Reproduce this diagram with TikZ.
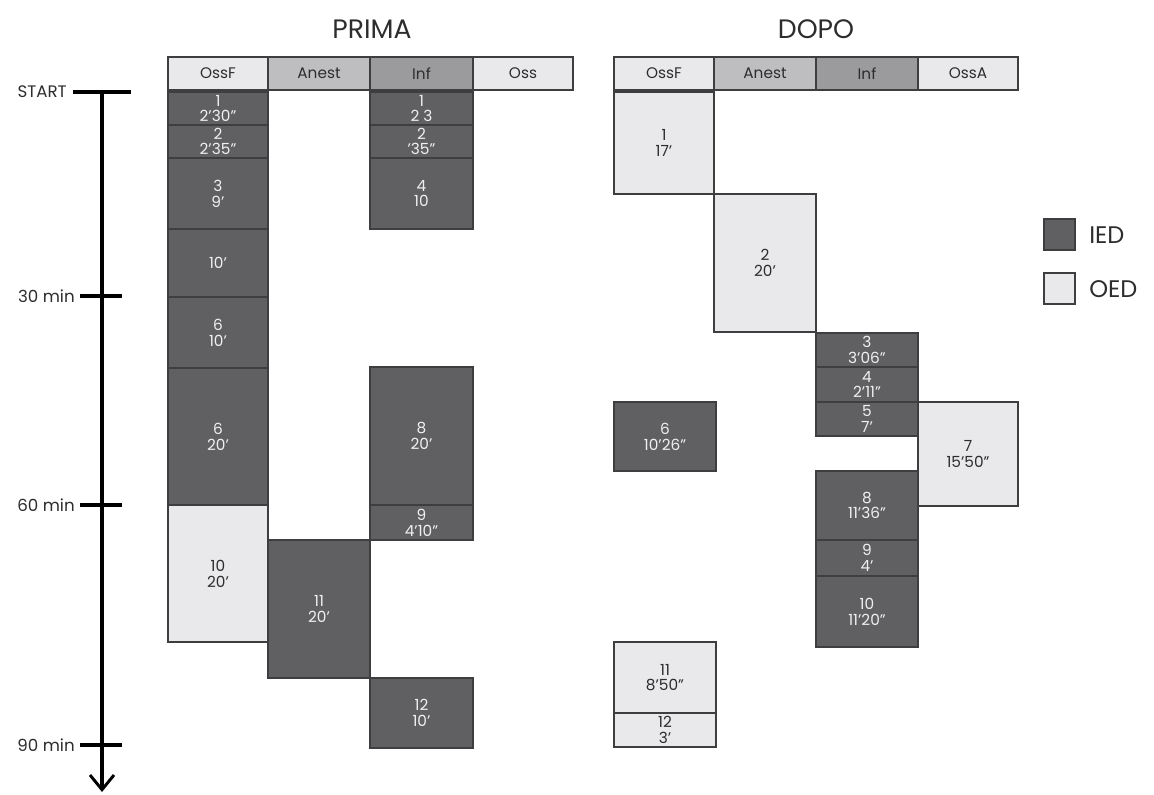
\documentclass[tikz,border=0pt]{standalone}
\usepackage{fontspec}
\setmainfont{Poppins}
\usetikzlibrary{arrows.meta}
\definecolor{iedfill}{RGB}{96,96,98}
\definecolor{oedfill}{RGB}{233,233,236}
\definecolor{anesthd}{RGB}{190,190,192}
\definecolor{infhd}{RGB}{155,155,157}
\definecolor{bord}{RGB}{62,62,64}
\definecolor{darktxt}{RGB}{45,45,45}
\definecolor{lighttxt}{RGB}{240,240,240}
\tikzset{
  cell/.style={draw=bord, line width=0.9pt, inner sep=0pt, align=center},
  ied/.style={cell, fill=iedfill, text=lighttxt, font=\fontsize{11.5}{11.8}\selectfont},
  oed/.style={cell, fill=oedfill, text=darktxt, font=\fontsize{11.5}{11.8}\selectfont},
  hdlight/.style={cell, fill=oedfill, text=darktxt, font=\fontsize{11.5}{12}\selectfont},
  hdmid/.style={cell, fill=anesthd, text=darktxt, font=\fontsize{11.5}{12}\selectfont},
  hddark/.style={cell, fill=infhd, text=darktxt, font=\fontsize{11.5}{12}\selectfont},
  ttl/.style={text=darktxt, font=\fontsize{20}{24}\selectfont},
  tlabel/.style={text=darktxt, font=\fontsize{12.5}{14}\selectfont, anchor=east, inner sep=0pt},
  axisline/.style={line width=2.4pt, black},
  tickline/.style={line width=3pt, black},
  legtxt/.style={text=darktxt, font=\fontsize{18}{21}\selectfont, anchor=west, inner sep=0pt}
}
\newcommand\blk[7]{%
  \pgfmathsetmacro\bw{(#5-#3)*0.75}%
  \pgfmathsetmacro\bh{(#6-#4)*0.75}%
  \node[#2, minimum width=\bw pt, minimum height=\bh pt] (#1) at ({(#3+#5)/2},{(#4+#6)/2}) {#7};}
\begin{document}
\begin{tikzpicture}[x=0.75pt,y=-0.75pt]
\useasboundingbox (0,0) rectangle (1154,794);
% titles
\node[ttl] (tPrima) at (372,29) {PRIMA};
\node[ttl] (tDopo) at (816,29) {DOPO};
% headers PRIMA
\blk{hP1}{hdlight}{168}{57}{268}{90}{OssF}
\blk{hP2}{hdmid}{268}{57}{370}{90}{Anest}
\blk{hP3}{hddark}{370}{57}{473}{90}{Inf}
\blk{hP4}{hdlight}{473}{57}{573}{90}{Oss}
% headers DOPO
\blk{hD1}{hdlight}{614}{57}{714}{90}{OssF}
\blk{hD2}{hdmid}{714}{57}{816}{90}{Anest}
\blk{hD3}{hddark}{816}{57}{918}{90}{Inf}
\blk{hD4}{hdlight}{918}{57}{1018}{90}{OssA}
% PRIMA OssF
\blk{pa1}{ied}{168}{92}{268}{125}{1\\2’30”}
\blk{pa2}{ied}{168}{125}{268}{158}{2\\2’35”}
\blk{pa3}{ied}{168}{158}{268}{229}{3\\9’}
\blk{pa4}{ied}{168}{229}{268}{297}{10’}
\blk{pa5}{ied}{168}{297}{268}{368}{6\\10’}
\blk{pa6}{ied}{168}{368}{268}{505}{6\\20’}
\blk{pa10}{oed}{168}{505}{268}{642}{10\\20’}
% PRIMA Anest
\blk{pb11}{ied}{268}{540}{370}{678}{11\\20’}
% PRIMA Inf
\blk{pc1}{ied}{370}{92}{473}{125}{1\\2 3}
\blk{pc2}{ied}{370}{125}{473}{158}{2\\’35”}
\blk{pc4}{ied}{370}{158}{473}{229}{4\\10}
\blk{pc8}{ied}{370}{367}{473}{505}{8\\20’}
\blk{pc9}{ied}{370}{505}{473}{540}{9\\4’10”}
\blk{pc12}{ied}{370}{678}{473}{748}{12\\10’}
% DOPO OssF
\blk{da1}{oed}{614}{92}{714}{194}{1\\17’}
\blk{da6}{ied}{614}{402}{716}{471}{6\\10’26”}
\blk{da11}{oed}{614}{642}{716}{713}{11\\8’50”}
\blk{da12}{oed}{614}{713}{716}{747}{12\\3’}
% DOPO Anest
\blk{db2}{oed}{714}{194}{816}{332}{2\\20’}
% DOPO Inf
\blk{dc3}{ied}{816}{333}{918}{367}{3\\3’06”}
\blk{dc4}{ied}{816}{367}{918}{402}{4\\2’11”}
\blk{dc5}{ied}{816}{402}{918}{436}{5\\7’}
\blk{dc8}{ied}{816}{471}{918}{540}{8\\11’36”}
\blk{dc9}{ied}{816}{540}{918}{576}{9\\4’}
\blk{dc10}{ied}{816}{576}{918}{647}{10\\11’20”}
% DOPO OssA
\blk{dd7}{oed}{918}{402}{1018}{506}{7\\15’50”}
% legend
\blk{legI}{ied}{1044}{219}{1075}{250}{}
\blk{legO}{oed}{1044}{273}{1075}{304}{}
\node[legtxt] (legIt) at (1089,235) {IED};
\node[legtxt] (legOt) at (1089,289) {OED};
% timeline
\coordinate (axTop) at (102,92);
\coordinate (axBot) at (102,792);
\draw[axisline, -{Straight Barb[length=11pt, width=18pt, line width=2.2pt]}] (axTop) -- (axBot);
\coordinate (st1) at (73,92);
\coordinate (st2) at (131,92);
\draw[tickline] (st1) -- (st2);
\node[tlabel] (lStart) at (67,92) {START};
\coordinate (t30a) at (80,296);
\coordinate (t30b) at (122,296);
\draw[tickline] (t30a) -- (t30b);
\node[tlabel] (l30) at (75,296) {30 min};
\coordinate (t60a) at (80,505);
\coordinate (t60b) at (122,505);
\draw[tickline] (t60a) -- (t60b);
\node[tlabel] (l60) at (75,505) {60 min};
\coordinate (t90a) at (80,745);
\coordinate (t90b) at (122,745);
\draw[tickline] (t90a) -- (t90b);
\node[tlabel] (l90) at (75,745) {90 min};
\end{tikzpicture}
\end{document}
